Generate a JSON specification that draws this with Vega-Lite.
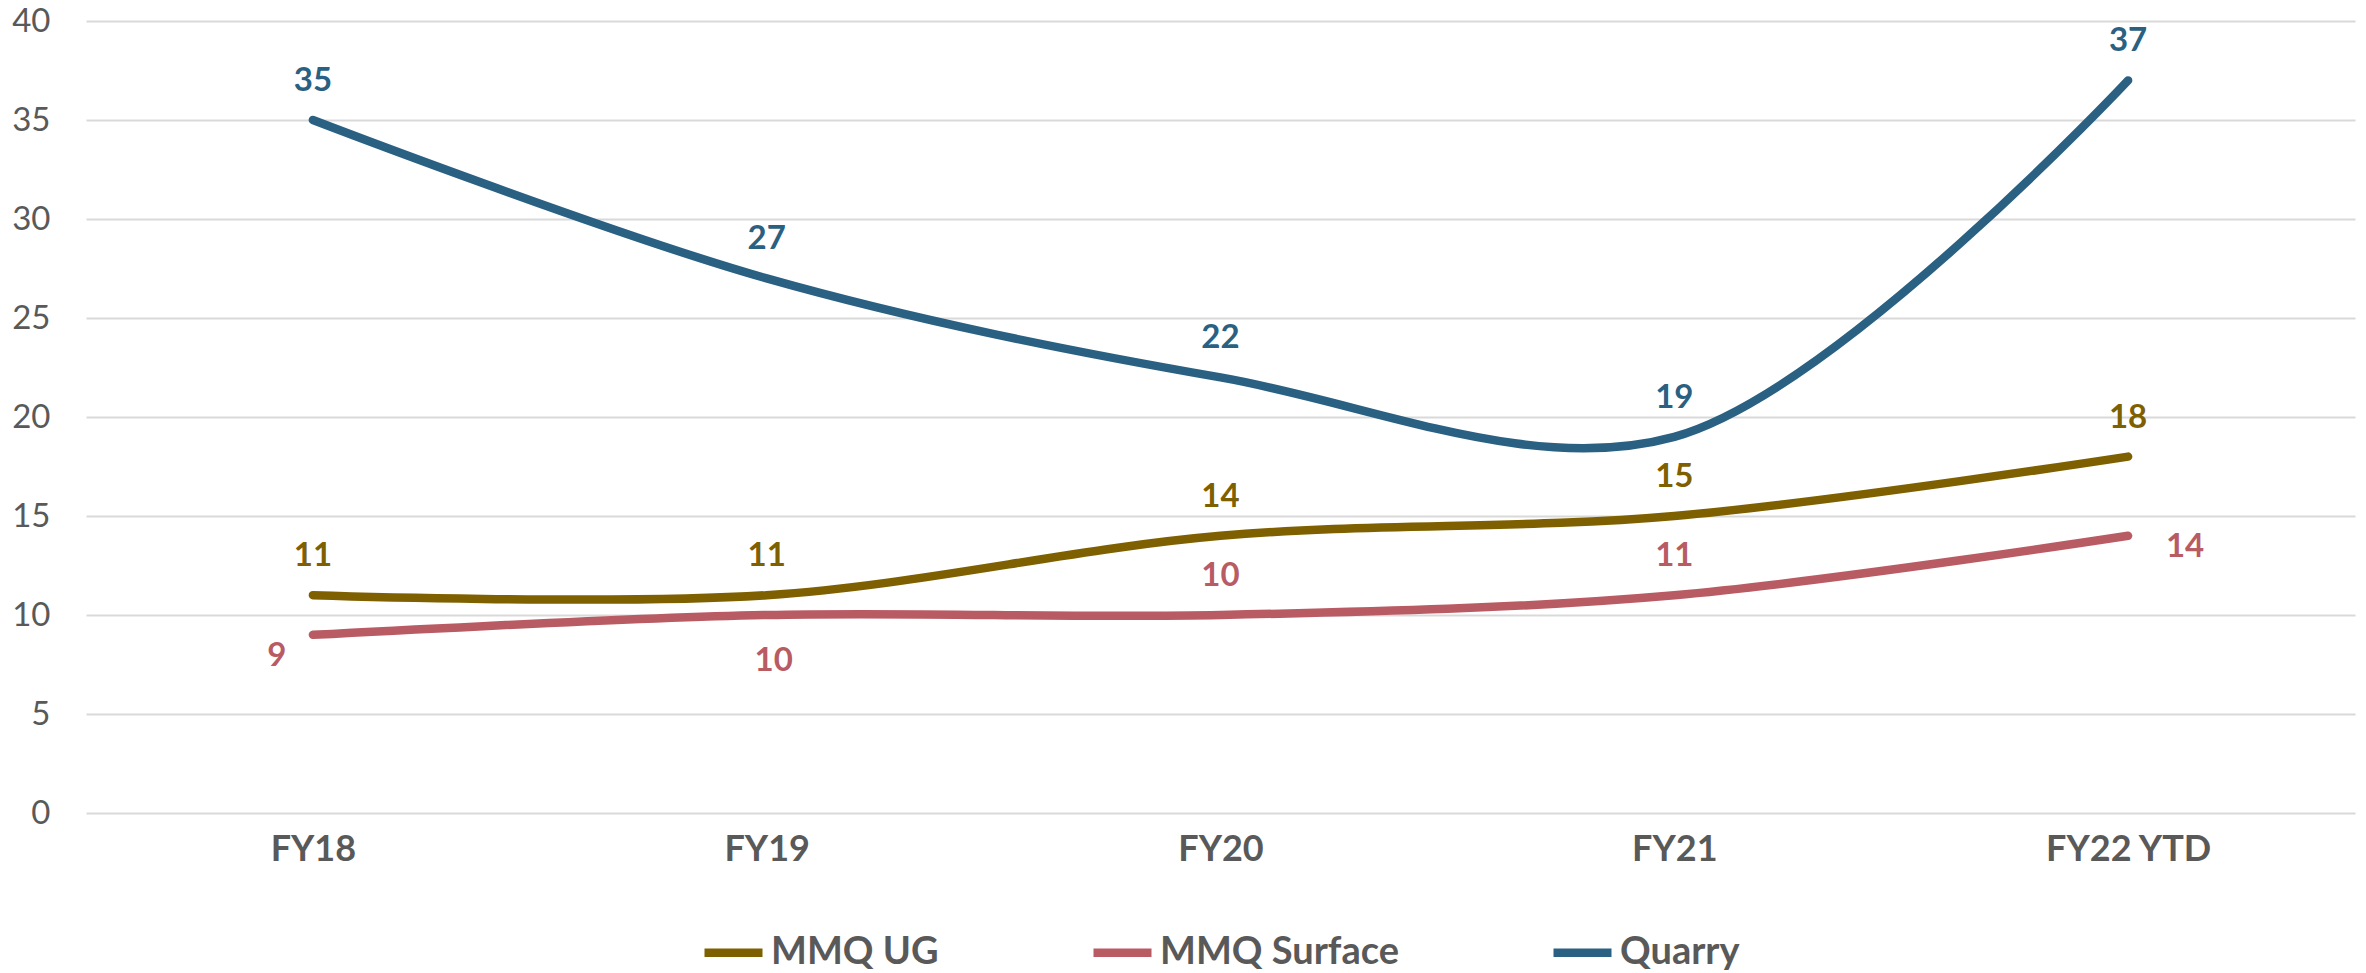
{
  "$schema": "https://vega.github.io/schema/vega-lite/v6.json",
  "width": 2269,
  "height": 792,
  "autosize": {"type": "none"},
  "padding": {"left": 86, "top": 21, "right": 11, "bottom": 160},
  "background": "white",
  "config": {
    "view": {"stroke": null},
    "font": "Lato"
  },
  "data": {
    "values": [
      {"year": "FY18", "series": "MMQ UG", "value": 11},
      {"year": "FY19", "series": "MMQ UG", "value": 11},
      {"year": "FY20", "series": "MMQ UG", "value": 14},
      {"year": "FY21", "series": "MMQ UG", "value": 15},
      {"year": "FY22 YTD", "series": "MMQ UG", "value": 18},
      {"year": "FY18", "series": "MMQ Surface", "value": 9},
      {"year": "FY19", "series": "MMQ Surface", "value": 10},
      {"year": "FY20", "series": "MMQ Surface", "value": 10},
      {"year": "FY21", "series": "MMQ Surface", "value": 11},
      {"year": "FY22 YTD", "series": "MMQ Surface", "value": 14},
      {"year": "FY18", "series": "Quarry", "value": 35},
      {"year": "FY19", "series": "Quarry", "value": 27},
      {"year": "FY20", "series": "Quarry", "value": 22},
      {"year": "FY21", "series": "Quarry", "value": 19},
      {"year": "FY22 YTD", "series": "Quarry", "value": 37}
    ]
  },
  "encoding": {
    "x": {
      "field": "year", "type": "ordinal",
      "sort": ["FY18", "FY19", "FY20", "FY21", "FY22 YTD"],
      "scale": {"type": "point", "padding": 0.5},
      "axis": {
        "title": null, "domain": false, "ticks": false, "tickSize": 0, "grid": false,
        "labelAngle": 0, "labelFont": "Lato", "labelFontSize": 36, "labelFontWeight": "bold",
        "labelColor": "#595959", "labelPadding": 36, "labelBaseline": "middle"
      }
    },
    "y": {
      "field": "value", "type": "quantitative",
      "scale": {"domain": [0, 40], "nice": false, "zero": true},
      "axis": {
        "title": null, "domain": false, "ticks": false, "tickSize": 0,
        "values": [0, 5, 10, 15, 20, 25, 30, 35, 40],
        "gridColor": "#d9d9d9", "gridWidth": 2,
        "labelFont": "Lato", "labelFontSize": 33, "labelColor": "#595959",
        "labelPadding": 36
      }
    },
    "color": {
      "field": "series", "type": "nominal",
      "scale": {
        "domain": ["MMQ UG", "MMQ Surface", "Quarry"],
        "range": ["#7f6000", "#b95b63", "#2a6082"]
      }
    }
  },
  "layer": [
    {
      "mark": {"type": "line", "interpolate": "catmull-rom", "strokeWidth": 8.5, "strokeCap": "round", "strokeJoin": "round"},
      "encoding": {
        "color": {
          "field": "series", "type": "nominal",
          "legend": {
            "title": null, "orient": "none", "direction": "horizontal",
            "legendX": 614, "legendY": 898,
            "symbolType": "stroke", "symbolSize": 3364, "symbolStrokeWidth": 8.5,
            "labelFont": "Lato", "labelFontSize": 38, "labelFontWeight": "bold",
            "labelColor": "#595959", "labelOffset": 4, "columnPadding": 137,
            "labelLimit": 1000
          }
        }
      }
    },
    {
      "transform": [{"filter": "!(datum.series == 'MMQ Surface' && (datum.year == 'FY18' || datum.year == 'FY19' || datum.year == 'FY22 YTD'))"}],
      "mark": {"type": "text", "dy": -39, "fontSize": 33, "fontWeight": "bold", "font": "Lato", "baseline": "middle", "align": "center"},
      "encoding": {"text": {"field": "value", "type": "quantitative"}}
    },
    {
      "transform": [{"filter": "datum.series == 'MMQ Surface' && datum.year == 'FY18'"}],
      "mark": {"type": "text", "dx": -36, "dy": 21, "fontSize": 33, "fontWeight": "bold", "font": "Lato", "baseline": "middle", "align": "center"},
      "encoding": {"text": {"field": "value", "type": "quantitative"}}
    },
    {
      "transform": [{"filter": "datum.series == 'MMQ Surface' && datum.year == 'FY19'"}],
      "mark": {"type": "text", "dx": 7, "dy": 46, "fontSize": 33, "fontWeight": "bold", "font": "Lato", "baseline": "middle", "align": "center"},
      "encoding": {"text": {"field": "value", "type": "quantitative"}}
    },
    {
      "transform": [{"filter": "datum.series == 'MMQ Surface' && datum.year == 'FY22 YTD'"}],
      "mark": {"type": "text", "dx": 57, "dy": 11, "fontSize": 33, "fontWeight": "bold", "font": "Lato", "baseline": "middle", "align": "center"},
      "encoding": {"text": {"field": "value", "type": "quantitative"}}
    }
  ]
}
